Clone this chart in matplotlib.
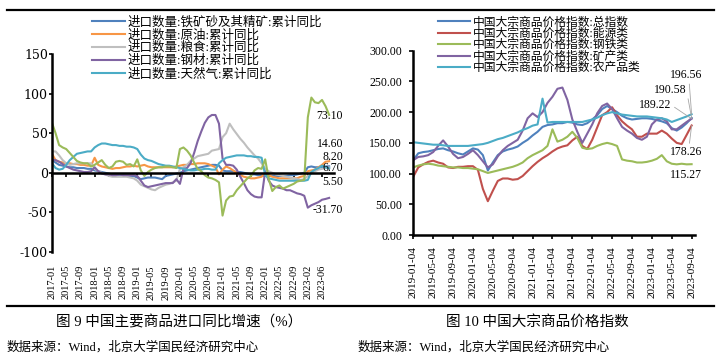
import numpy as np
import pandas as pd
import matplotlib
matplotlib.use('Agg')
import matplotlib.pyplot as plt
from matplotlib.lines import Line2D

plt.rcParams['font.family'] = ['Liberation Serif', 'Noto Sans CJK SC']
plt.rcParams['axes.unicode_minus'] = False

# ---- 图9 数据：进口数量累计同比（%），2023-01 无数据 ----
months_L = [p.strftime('%Y-%m') for p in pd.period_range('2017-01', '2023-08', freq='M')
            if p.strftime('%Y-%m') != '2023-01']
xlabels_L = ['2017-01', '2017-05', '2017-09', '2018-01', '2018-05', '2018-09', '2019-01',
             '2019-05', '2019-09', '2020-01', '2020-05', '2020-09', '2021-01', '2021-05',
             '2021-09', '2022-01', '2022-05', '2022-09', '2023-02', '2023-06']

iron = [16, 13, 10, 9, 8, 7, 7, 6, 6, 6, 5, 5,
        3, 2, 1, 0, -1, -2, -2, -3, -3, -4, -4, -4,
        -6, -8, -7, -6, -6, -6, -7, -8, -4, -3, -2, -1,
        0, 2, 3, 4, 5, 6, 7, 8, 9, 10, 10, 9,
        3, 2, 2, 2, 1, 1, 0, -1, -2, -2, -3, -3,
        -4, -4, -4, -4, -4, -4, -4, -3, -3, -2, -1, 0,
        7, 8, 7, 7, 7, 8, 8.2]
crude = [24, 16, 14, 13, 12, 12, 11, 11, 10, 10, 9, 9,
         19, 10, 8, 7, 6, 5, 6, 6, 7, 8, 8, 9,
         8, 9, 10, 8, 7, 7, 7, 7, 7, 7, 7, 8,
         9, 10, 10, 11, 11, 12, 12, 12, 11, 9, 7, -2,
         4, 8, 6, 3, 0, -3, -5, -6, -7, -7, -6, -5,
         0, -3, -5, -6, -7, -7, -7, -7, -7, -7, -5, -4,
         2, 3, 4, 7, 10, 14, 14.6]
grain = [27, 27, 22, 16, 12, 10, 11, 12, 12, 12, 12, 12,
         5, 2, 0, -2, -4, -5, -5, -5, -5, -5, -6, -7,
         -10, -15, -17, -19, -21, -22, -19, -17, -15, -14, -12, -10,
         5, 7, 10, 15, 18, 21, 22, 23, 24, 28, 29, 30,
         45, 50, 62, 55, 49, 43, 38, 32, 27, 22, 18, 12,
         5, 2, 0, -2, -3, -4, -5, -6, -7, -8, -9, -8,
         -4, 0, 2, 4, 5, 6, 6.7]
steel = [17, 16, 14, 11, 8, 6, 4, 3, 2, 1, 1, 2,
         7, 2, -1, -2, -2, -3, -3, -2, -3, -3, -3, -3,
         -4, -10, -16, -18, -17, -16, -15, -14, -13, -13, -13, -8,
         -14, 5, 6, 12, 25, 40, 52, 63, 70, 73, 73, 62,
         18, 10, 10, 9, 4, -5, -13, -22, -27, -30, -31, -31,
         2, -10, -16, -18, -19, -20, -22, -22, -24, -26, -27, -29,
         -44, -41, -39, -37, -34, -33, -31.7]
gas = [12, 6, 4, 5, 10, 16, 20, 24, 25, 26, 27, 27,
       32, 35, 37, 37, 36, 35, 35, 34, 34, 33, 33, 32,
       30, 23, 18, 16, 15, 13, 11, 10, 9, 9, 8, 7,
       6, 5, 4, 3, 3, 4, 4, 5, 5, 4, 4, 12,
       16, 19, 20, 21, 22, 22, 22, 21, 21, 20, 20, 19,
       -3, -7, -8, -9, -10, -10, -10, -10, -10, -10, -10, -10,
       -9, 1, 4, 6, 9, 7, 5.5]
other = [63, 50, 35, 32, 30, 25, 20, 15, 13, 12, 12, 8,
         10, 13, 16, 10, 6, 8, 14, 15, 14, 10, 11, 8,
         17, 3, -4, 1, 4, 6, 7, 7, 8, 8, 7, 6,
         30, 32, 28, 22, 13, 5, 2, -3, -6, -7, -9, -12,
         -54, -35, -30, -29, -22, -17, -12, -7, -4, 3, 6, 5,
         17, -8, -23, -18, -16, -20, -18, -16, -14, -11, -10, -9,
         70, 95, 89, 88, 92, 84, 73.1]

names_L = ['进口数量:铁矿砂及其精矿:累计同比', '进口数量:原油:累计同比',
           '进口数量:粮食:累计同比', '进口数量:钢材:累计同比', '进口数量:天然气:累计同比']

# ---- 图10 数据：中国大宗商品价格指数（月度读数） ----
xlabels_R = ['2019-01-04', '2019-05-04', '2019-09-04', '2020-01-04', '2020-05-04',
             '2020-09-04', '2021-01-04', '2021-05-04', '2021-09-04', '2022-01-04',
             '2022-05-04', '2022-09-04', '2023-01-04', '2023-05-04', '2023-09-04']

total = [122, 133, 135, 136, 138, 140, 141, 138, 136, 133,
         131, 136, 141, 139, 130, 105, 118, 130, 136, 139,
         141, 144, 150, 155, 162, 168, 176, 179, 180, 182,
         182, 184, 183, 180, 179, 182, 188, 195, 205, 210,
         205, 200, 194, 190, 188, 189, 190, 190, 189, 187,
         185, 182, 174, 170, 175, 182, 190.58]
energy = [95, 110, 115, 119, 121, 118, 116, 110, 109, 111,
          111, 112, 112, 106, 75, 55, 72, 88, 92, 92,
          90, 91, 96, 104, 112, 119, 125, 130, 136, 141,
          144, 146, 154, 160, 145, 140, 155, 175, 195, 200,
          208, 195, 185, 178, 172, 160, 160, 165, 165, 165,
          170, 165, 157, 150, 148, 163, 178.26]
ironsteel = [110, 113, 115, 116, 115, 113, 112, 111, 110, 110,
             109, 109, 108, 107, 104, 101, 103, 105, 107, 109,
             111, 114, 118, 125, 130, 134, 138, 145, 172, 152,
             155, 160, 168, 158, 142, 140, 141, 145, 148, 150,
             148, 145, 123, 121, 120, 118, 118, 119, 121, 124,
             130, 120, 116, 115, 116, 115, 115.27]
mineral = [122, 127, 128, 130, 135, 145, 154, 144, 132, 125,
           127, 132, 138, 130, 120, 110, 115, 128, 138, 145,
           150, 155, 170, 190, 198, 192, 200, 215, 225, 238,
           240, 220, 188, 168, 150, 165, 180, 198, 210, 214,
           205, 190, 176, 170, 165, 158, 155, 160, 180, 188,
           190, 185, 172, 172, 178, 184, 189.22]
agri = [151, 150, 149, 148, 147, 147, 146, 145, 145, 145,
        145, 145, 146, 147, 148, 150, 153, 156, 158, 161,
        164, 167, 171, 174, 178, 180, 222, 183, 184, 184,
        184, 184, 184, 184, 184, 186, 188, 191, 195, 198,
        200, 198, 196, 195, 194, 193, 193, 193, 192, 191,
        190, 188, 184, 187, 190, 193, 196.56]

names_R = ['中国大宗商品价格指数:总指数', '中国大宗商品价格指数:能源类',
           '中国大宗商品价格指数:钢铁类', '中国大宗商品价格指数:矿产类',
           '中国大宗商品价格指数:农产品类']

BLUE, RED, GREEN, PURPLE, CYAN, ORANGE, GRAY = (
    '#4F81BD', '#C0504D', '#9BBB59', '#8064A2', '#4BACC6', '#F79646', '#BFBFBF')

W, H = 721, 357
def box(x0, y0, x1, y1):
    return [x0 / W, 1 - y1 / H, (x1 - x0) / W, (y1 - y0) / H]

fig = plt.figure(figsize=(W / 100, H / 100), dpi=100)
fig.patch.set_facecolor('white')

# ---------- 左图 ----------
ax1 = fig.add_axes(box(52, 54, 52 + 79.5 * 3.553, 252))
xL = np.arange(len(months_L))
lines_L = []
for vals, col in zip([iron, crude, grain, steel, gas], [BLUE, ORANGE, GRAY, PURPLE, CYAN]):
    ln, = ax1.plot(xL, vals, color=col, lw=1.5)
    lines_L.append(ln)
ax1.plot(xL, other, color=GREEN, lw=1.5)

ax1.set_xlim(0, 79.5)
ax1.set_ylim(-100, 150)
ax1.set_yticks([-100, -50, 0, 50, 100, 150])
ax1.tick_params(axis='y', direction='out', length=2, width=1.2, pad=1,
                labelsize=9, labelfontfamily='DejaVu Serif')
for s in ['top', 'right']:
    ax1.spines[s].set_visible(False)
ax1.spines['bottom'].set_position(('data', 0))
for s in ['left', 'bottom']:
    ax1.spines[s].set_linewidth(1.8)
tick_pos = [months_L.index(m) for m in xlabels_L]
ax1.set_xticks(tick_pos)
ax1.tick_params(axis='x', direction='out', length=3, width=1.2, labelbottom=False)
for p, lbl in zip(tick_pos, xlabels_L):
    ax1.text(p, -0.066, lbl, transform=ax1.get_xaxis_transform(), rotation=90,
             ha='center', va='top', fontsize=7.5)

# 末值标注
end_vals = [other[-1], crude[-1], iron[-1], grain[-1], gas[-1], steel[-1]]
end_y = [71.7, 36.5, 20, 5.7, -12.2, -47.4]
for v, yy in zip(end_vals, end_y):
    ax1.text(81.9, yy, f'{v:.2f}', ha='right', va='center', fontsize=8.5)

fig.legend(lines_L, names_L, loc='upper left', bbox_to_anchor=(92 / W, 1 - 16 / H),
           frameon=False, fontsize=9, handlelength=2.6, handletextpad=0.25,
           labelspacing=0.05, borderpad=0, borderaxespad=0)

# ---------- 右图 ----------
ax2 = fig.add_axes(box(413.3, 50.7, 413.3 + 56.6 * 4.97, 235))
xR = np.arange(len(total))
lines_R = []
for vals, col in zip([total, energy, ironsteel, mineral, agri], [BLUE, RED, GREEN, PURPLE, CYAN]):
    ln, = ax2.plot(xR, vals, color=col, lw=1.5)
    lines_R.append(ln)

ax2.set_xlim(0, 56.6)
ax2.set_ylim(0, 300)
ax2.set_yticks(range(0, 301, 50))
ax2.set_yticklabels([f'{v:.2f}' for v in range(0, 301, 50)])
ax2.set_xticks(range(0, 57, 4))
ax2.set_xticklabels(xlabels_R, rotation=90, fontsize=8)
ax2.tick_params(axis='y', direction='out', length=3, width=1.2, pad=5, labelsize=8.5)
ax2.tick_params(axis='x', direction='out', length=3, width=1.2, pad=5)
for s in ['top', 'right']:
    ax2.spines[s].set_visible(False)
for s in ['left', 'bottom']:
    ax2.spines[s].set_linewidth(1.8)

lead = dict(arrowstyle='-', color='#A6A6A6', lw=0.6, shrinkA=0, shrinkB=0)
last = len(total) - 1
ax2.annotate(f'{agri[-1]:.2f}', xy=(last, agri[-1]), xytext=(58.1, 260), ha='right',
             va='center', fontsize=8.5, arrowprops=dict(lead, relpos=(0.6, 0)))
ax2.annotate(f'{total[-1]:.2f}', xy=(last, total[-1]), xytext=(55.05, 236), ha='right',
             va='center', fontsize=8.5, arrowprops=dict(lead, relpos=(1, 0.3)))
ax2.annotate(f'{mineral[-1]:.2f}', xy=(last, mineral[-1]), xytext=(52.0, 211), ha='right',
             va='center', fontsize=8.5, arrowprops=dict(lead, relpos=(1, 0.5)))
ax2.annotate(f'{energy[-1]:.2f}', xy=(last, energy[-1]), xytext=(58.1, 135), ha='right',
             va='center', fontsize=8.5, arrowprops=dict(lead, relpos=(0.6, 1)))
ax2.text(58.1, 97.6, f'{ironsteel[-1]:.2f}', ha='right', va='center', fontsize=8.5)

fig.legend(lines_R, names_R, loc='upper left', bbox_to_anchor=(438 / W, 1 - 16.5 / H),
           frameon=False, fontsize=8.5, handlelength=2.7, handletextpad=0.25,
           labelspacing=-0.05, borderpad=0, borderaxespad=0)

# ---------- 版面 ----------
fig.add_artist(Line2D([7 / W, 714 / W], [1 - 10 / H] * 2, color='black', lw=1.6))
fig.add_artist(Line2D([7 / W, 714 / W], [1 - 306 / H] * 2, color='black', lw=1.6))

fig.text(179 / W, 1 - 322 / H, '图 9 中国主要商品进口同比增速（%）', ha='center', va='center',
         fontsize=10.5)
fig.text(537.5 / W, 1 - 322 / H, '图 10 中国大宗商品价格指数', ha='center', va='center',
         fontsize=10.5)
fig.text(7 / W, 1 - 347 / H, '数据来源：Wind，北京大学国民经济研究中心', va='center', fontsize=9)
fig.text(358 / W, 1 - 347 / H, '数据来源：Wind，北京大学国民经济研究中心', va='center', fontsize=9)

fig.savefig('out.png', dpi=100)
